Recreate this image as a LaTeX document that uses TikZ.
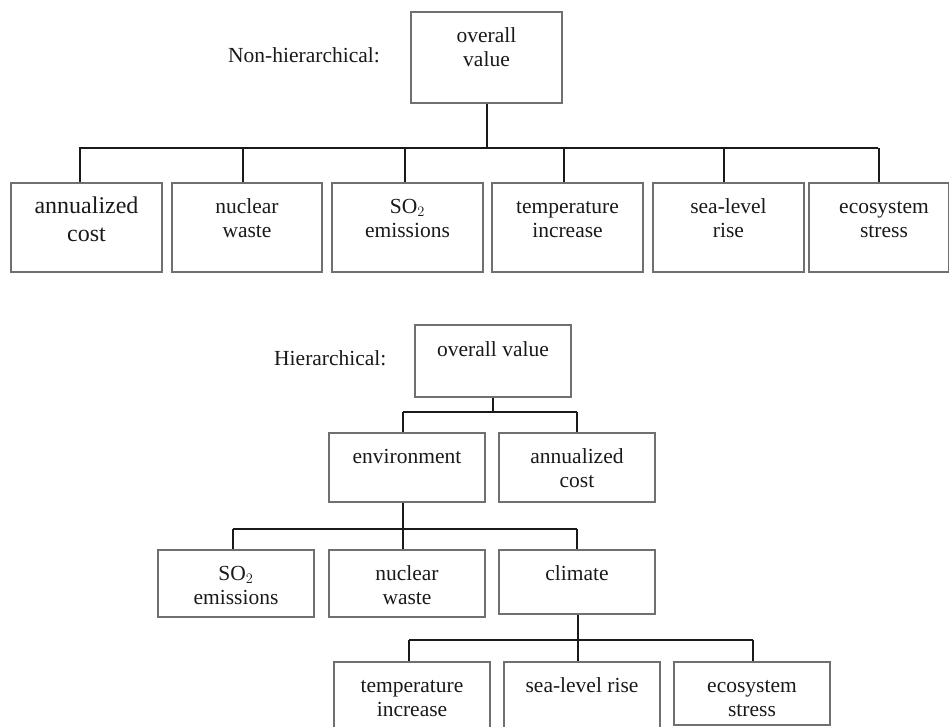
\documentclass[tikz,border=0pt]{standalone}
\usepackage{fontspec}
\setmainfont{Liberation Serif}
\definecolor{boxgray}{HTML}{707070}
\definecolor{conngray}{HTML}{1A1A1A}
\begin{document}
\begin{tikzpicture}[x=1pt,y=-1pt,
  box/.style={draw=boxgray, line width=2pt, inner sep=0pt, anchor=north west},
  conn/.style={draw=conngray, line width=2pt},
  txt/.style={inner sep=0pt, anchor=base, font=\fontsize{21.5}{24.5}\selectfont, text=black!90},
  bigtxt/.style={inner sep=0pt, anchor=base, font=\fontsize{24}{28}\selectfont, text=black!90}]
\useasboundingbox (0,0) rectangle (949,726);
\newcommand{\twol}[2]{\begin{tabular}[t]{@{}c@{}}#1\\#2\end{tabular}}
\renewcommand{\arraystretch}{1}

% ---------- Non-hierarchical ----------
\node[txt, anchor=base west] (lblA) at (228,62) {Non-hierarchical:};
\node[box, minimum width=151pt, minimum height=91pt] (ov1) at (410,11) {};
\node[txt] (ov1t) at ([yshift=-31pt]ov1.north) {\twol{overall}{value}};

\node[box, minimum width=151pt, minimum height=89pt] (ac1) at (10,182) {};
\node[box, minimum width=150pt, minimum height=89pt] (nw1) at (171,182) {};
\node[box, minimum width=151pt, minimum height=89pt] (so1) at (331,182) {};
\node[box, minimum width=151pt, minimum height=89pt] (ti1) at (491,182) {};
\node[box, minimum width=151pt, minimum height=89pt] (sl1) at (652,182) {};
\node[box, minimum width=140pt, minimum height=89pt] (es1) at (808,182) {};

\node[bigtxt] (ac1t) at ([yshift=-31pt]ac1.north) {\fontsize{24}{28}\selectfont\twol{annualized}{cost}};
\node[txt] (nw1t) at ([yshift=-31pt]nw1.north) {\twol{nuclear}{waste}};
\node[txt] (so1t) at ([yshift=-31pt]so1.north) {\twol{SO$_2$}{emissions}};
\node[txt] (ti1t) at ([yshift=-31pt]ti1.north) {\twol{temperature}{increase}};
\node[txt] (sl1t) at ([yshift=-31pt]sl1.north) {\twol{sea-level}{rise}};
\node[txt] (es1t) at ([xshift=5pt,yshift=-31pt]es1.north) {\twol{ecosystem}{stress}};

\coordinate (b1L) at (79,148);
\coordinate (b1R) at (878,148);
\draw[conn] (ov1.south) -- (ov1.south |- b1L);
\draw[conn] (b1L) -- (b1R);
\draw[conn] ([xshift=-6.5pt]ac1.north) -- ([xshift=-6.5pt]ac1.north |- b1L);
\draw[conn] ([xshift=-4pt]nw1.north) -- ([xshift=-4pt]nw1.north |- b1L);
\draw[conn] ([xshift=-2.5pt]so1.north) -- ([xshift=-2.5pt]so1.north |- b1L);
\draw[conn] ([xshift=-3.5pt]ti1.north) -- ([xshift=-3.5pt]ti1.north |- b1L);
\draw[conn] ([xshift=-4.5pt]sl1.north) -- ([xshift=-4.5pt]sl1.north |- b1L);
\draw[conn] (es1.north) -- (es1.north |- b1L);

% ---------- Hierarchical ----------
\node[txt, anchor=base west] (lblB) at (274,365) {Hierarchical:};
\node[box, minimum width=156pt, minimum height=72pt] (ov2) at (414,324) {};
\node[txt] (ov2t) at ([yshift=-32pt]ov2.north) {overall value};

\node[box, minimum width=156pt, minimum height=69pt] (env) at (328,432) {};
\node[box, minimum width=156pt, minimum height=69pt] (ac2) at (498,432) {};
\node[txt] (envt) at ([yshift=-31pt]env.north) {environment};
\node[txt] (ac2t) at ([yshift=-31pt]ac2.north) {\twol{annualized}{cost}};

\coordinate (b2L) at (403,412);
\coordinate (b2R) at (577,412);
\draw[conn] (ov2.south) -- (ov2.south |- b2L);
\draw[conn] (b2L) -- (b2R);
\draw[conn] (b2L) -- (b2L |- env.north);
\draw[conn] (b2R) -- (b2R |- ac2.north);

\node[box, minimum width=156pt, minimum height=67pt] (so2) at (157,549) {};
\node[box, minimum width=156pt, minimum height=67pt] (nw2) at (328,549) {};
\node[box, minimum width=156pt, minimum height=64pt] (cl2) at (498,549) {};
\node[txt] (so2t) at ([yshift=-31pt]so2.north) {\twol{SO$_2$}{emissions}};
\node[txt] (nw2t) at ([yshift=-31pt]nw2.north) {\twol{nuclear}{waste}};
\node[txt] (cl2t) at ([yshift=-31pt]cl2.north) {climate};

\coordinate (b3L) at (233,529);
\coordinate (b3R) at (577,529);
\coordinate (b3M) at (403,529);
\draw[conn] (b3M |- env.south) -- (b3M);
\draw[conn] (b3L) -- (b3R);
\draw[conn] (b3L) -- (b3L |- so2.north);
\draw[conn] (b3M) -- (b3M |- nw2.north);
\draw[conn] (b3R) -- (b3R |- cl2.north);

\node[box, minimum width=156pt, minimum height=80pt] (ti2) at (333,661) {};
\node[box, minimum width=156pt, minimum height=80pt] (sl2) at (503,661) {};
\node[box, minimum width=156pt, minimum height=63pt] (es2) at (673,661) {};
\node[txt] (ti2t) at ([yshift=-31pt]ti2.north) {\twol{temperature}{increase}};
\node[txt] (sl2t) at ([yshift=-31pt]sl2.north) {sea-level rise};
\node[txt] (es2t) at ([yshift=-31pt]es2.north) {\twol{ecosystem}{stress}};

\coordinate (b4L) at (409,640);
\coordinate (b4M) at (578,640);
\coordinate (b4R) at (753,640);
\draw[conn] (b4M |- cl2.south) -- (b4M);
\draw[conn] (b4L) -- (b4R);
\draw[conn] (b4L) -- (b4L |- ti2.north);
\draw[conn] (b4M) -- (b4M |- sl2.north);
\draw[conn] (b4R) -- (b4R |- es2.north);
\end{tikzpicture}
\end{document}
